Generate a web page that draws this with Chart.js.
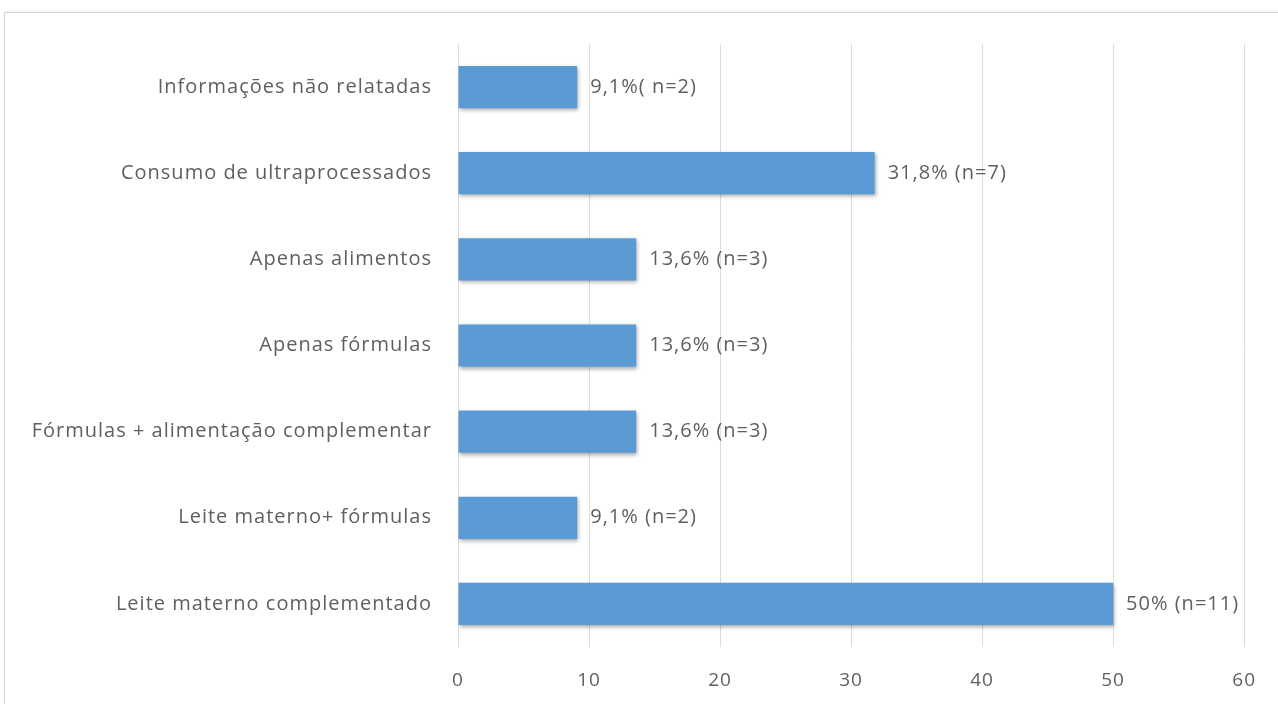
<!DOCTYPE html>
<html>
<head>
<meta charset="utf-8">
<script src="https://cdn.jsdelivr.net/npm/chart.js@4/dist/chart.umd.min.js"></script>
<style>
  html, body { margin: 0; padding: 0; background: #fff; }
  #wrap { position: relative; width: 1278px; height: 704px; overflow: hidden; }
  #frame { position: absolute; left: 4px; top: 12px; width: 1300px; height: 720px;
           border-top: 1px solid #d6d6d6; border-left: 1px solid #d6d6d6;
           box-shadow: 0 -1px 2px rgba(0,0,0,0.06); }
  canvas { position: absolute; left: 0; top: 0; }
</style>
</head>
<body>
<div id="wrap">
  <div id="frame"></div>
  <canvas id="chart" width="1278" height="704"></canvas>
</div>
<script>
const categories = [
  "Informações não relatadas",
  "Consumo de ultraprocessados",
  "Apenas alimentos",
  "Apenas fórmulas",
  "Fórmulas + alimentação complementar",
  "Leite materno+ fórmulas",
  "Leite materno complementado"
];
const values = [9.1, 31.8, 13.6, 13.6, 13.6, 9.1, 50];
const barLabels = [
  "9,1%( n=2)",
  "31,8% (n=7)",
  "13,6% (n=3)",
  "13,6% (n=3)",
  "13,6% (n=3)",
  "9,1% (n=2)",
  "50% (n=11)"
];
const xTicks = [0, 10, 20, 30, 40, 50, 60];

const FONT = "'Open Sans', 'Liberation Sans', sans-serif";
const TEXT = "#5f5f5f";
const SPACING = "1px";

// wider letter spacing to match the stretched spreadsheet text
const spacing = {
  id: "spacing",
  beforeLayout(chart) { chart.ctx.letterSpacing = SPACING; },
  beforeDraw(chart) { chart.ctx.letterSpacing = SPACING; }
};

// soft shadow under the bars, like the spreadsheet style
const barShadow = {
  id: "barShadow",
  beforeDatasetsDraw(chart) {
    const ctx = chart.ctx;
    ctx.save();
    ctx.shadowColor = "rgba(0,0,0,0.35)";
    ctx.shadowBlur = 4;
    ctx.shadowOffsetX = 1;
    ctx.shadowOffsetY = 2;
  },
  afterDatasetsDraw(chart) {
    chart.ctx.restore();
  }
};

const valueLabels = {
  id: "valueLabels",
  afterDraw(chart) {
    const ctx = chart.ctx;
    const meta = chart.getDatasetMeta(0);
    ctx.save();
    ctx.letterSpacing = SPACING;
    ctx.font = "20px " + FONT;
    ctx.fillStyle = TEXT;
    ctx.textAlign = "left";
    ctx.textBaseline = "middle";
    meta.data.forEach((bar, i) => {
      ctx.fillText(barLabels[i], bar.x + 13, bar.y);
    });
    ctx.restore();
  }
};

function barFill(c) {
  const el = c.element;
  if (!el) return "#5b9bd5";
  const y = el.y, h = el.height;
  if (!isFinite(y) || !isFinite(h) || h <= 0) return "#5b9bd5";
  const g = c.chart.ctx.createLinearGradient(0, y - h / 2, 0, y + h / 2);
  g.addColorStop(0, "#6eaae0");
  g.addColorStop(0.5, "#5696d3");
  g.addColorStop(1, "#3c7cbf");
  return g;
}

new Chart(document.getElementById("chart"), {
  type: "bar",
  data: {
    labels: categories,
    datasets: [{
      data: values,
      backgroundColor: barFill,
      borderWidth: 0,
      categoryPercentage: 0.98,
      barPercentage: 0.5
    }]
  },
  options: {
    indexAxis: "y",
    responsive: false,
    animation: false,
    layout: { padding: { top: 44, right: 32, left: 0, bottom: 0 } },
    plugins: { legend: { display: false }, tooltip: { enabled: false } },
    scales: {
      x: {
        min: 0,
        max: 60,
        afterBuildTicks: (axis) => { axis.ticks = xTicks.map(v => ({ value: v })); },
        grid: { color: "#dcdcdc", lineWidth: 1, drawTicks: false },
        border: { display: false },
        ticks: { color: TEXT, font: { family: FONT, size: 19 }, padding: 22 },
        afterFit: (axis) => { axis.height = 57; }
      },
      y: {
        grid: { display: false },
        border: { display: false },
        ticks: { color: TEXT, font: { family: FONT, size: 20 }, padding: 18 },
        afterFit: (axis) => { axis.width = 458; }
      }
    }
  },
  plugins: [spacing, barShadow, valueLabels]
});
</script>
</body>
</html>
